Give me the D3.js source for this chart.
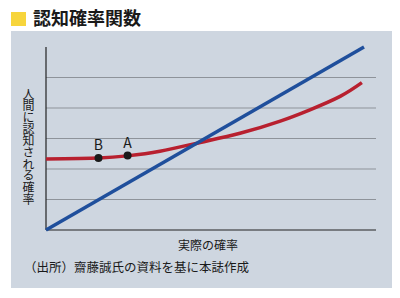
<!DOCTYPE html>
<html>
<head>
<meta charset="utf-8">
<script src="https://cdn.jsdelivr.net/npm/d3@7"></script>
<style>
  body { margin: 0; background: #fff; }
  svg { display: block; font-family: "Noto Sans CJK JP", sans-serif; }
</style>
</head>
<body>
<div id="chart"></div>
<script>
'use strict';

const title = '認知確率関数';
const xLabel = '実際の確率';
const yLabel = '人間に認知される確率';
const source = '（出所）齋藤誠氏の資料を基に本誌作成';

// actual probability (blue, y = x)
const actualX = [0, 6];
const actualY = [0, 6];

// perceived probability (red)
const perceivedX = [0, 1, 1.53, 2.15, 2.91, 3.66, 4.42, 4.98, 5.55, 5.96];
const perceivedY = [2.33, 2.36, 2.43, 2.585, 2.87, 3.17, 3.57, 3.94, 4.38, 4.83];

const pointNames = ['B', 'A'];
const pointX = [0.99, 1.54];
const pointY = [2.36, 2.44];

const gridValues = [1, 2, 3, 4, 5];

const width = 400, height = 298;
const svg = d3.select('#chart').append('svg')
    .attr('width', width)
    .attr('height', height);

// title
svg.append('rect')
    .attr('x', 11).attr('y', 12).attr('width', 15).attr('height', 14)
    .attr('fill', '#f7d53c');
svg.append('text')
    .attr('x', 33).attr('y', 25)
    .attr('font-size', 18).attr('font-weight', 'bold')
    .attr('fill', '#1a1a1a')
    .text(title);

// panel
svg.append('rect')
    .attr('x', 11).attr('y', 31).attr('width', 381).attr('height', 257)
    .attr('fill', '#ced6e0');

const x = d3.scaleLinear().domain([0, 6]).range([46, 364]);
const y = d3.scaleLinear().domain([0, 6]).range([230, 47]);
const xEnd = 376;

const chart = svg.append('g');

chart.selectAll('line.grid')
    .data(gridValues)
    .join('line')
    .classed('grid', true)
    .attr('x1', x(0)).attr('x2', xEnd)
    .attr('y1', d => y(d)).attr('y2', d => y(d))
    .attr('stroke', '#8e939a').attr('stroke-width', 1);

// axes
chart.append('line')
    .attr('x1', x(0)).attr('x2', xEnd)
    .attr('y1', y(0)).attr('y2', y(0))
    .attr('stroke', '#222').attr('stroke-width', 1.2);
chart.append('line')
    .attr('x1', x(0)).attr('x2', x(0))
    .attr('y1', y(0)).attr('y2', y(6))
    .attr('stroke', '#222').attr('stroke-width', 1.2);

chart.append('path')
    .datum(perceivedX.map((v, i) => [v, perceivedY[i]]))
    .attr('d', d3.line().x(d => x(d[0])).y(d => y(d[1])).curve(d3.curveNatural))
    .attr('fill', 'none')
    .attr('stroke', '#b8202f')
    .attr('stroke-width', 3.5);

chart.append('path')
    .datum(actualX.map((v, i) => [v, actualY[i]]))
    .attr('d', d3.line().x(d => x(d[0])).y(d => y(d[1])))
    .attr('fill', 'none')
    .attr('stroke', '#1f4f9c')
    .attr('stroke-width', 3.5);

const pts = pointNames.map((n, i) => ({ name: n, x: pointX[i], y: pointY[i] }));
chart.selectAll('circle.pt')
    .data(pts)
    .join('circle')
    .classed('pt', true)
    .attr('cx', d => x(d.x)).attr('cy', d => y(d.y))
    .attr('r', 4)
    .attr('fill', '#1a1a1a');
chart.selectAll('text.pt')
    .data(pts)
    .join('text')
    .classed('pt', true)
    .attr('x', d => x(d.x)).attr('y', d => y(d.y) - 8)
    .attr('text-anchor', 'middle')
    .attr('font-size', 14)
    .attr('fill', '#1a1a1a')
    .text(d => d.name);

// labels
svg.append('text')
    .attr('x', 208).attr('y', 250)
    .attr('text-anchor', 'middle')
    .attr('font-size', 12)
    .attr('fill', '#1a1a1a')
    .text(xLabel);

svg.append('text')
    .attr('x', 28.5).attr('y', 88)
    .style('writing-mode', 'vertical-rl')
    .attr('font-size', 12)
    .attr('letter-spacing', -0.3)
    .attr('fill', '#1a1a1a')
    .text(yLabel);

svg.append('text')
    .attr('x', 24).attr('y', 272)
    .attr('font-size', 12.5)
    .attr('fill', '#1a1a1a')
    .text(source);
</script>
</body>
</html>
